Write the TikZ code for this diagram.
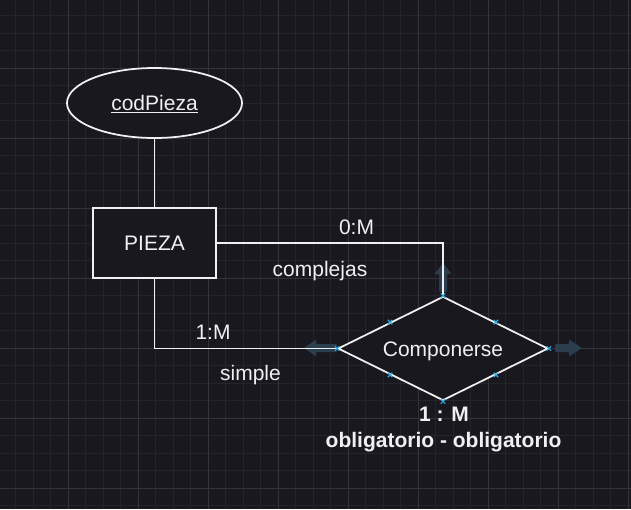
\documentclass[tikz,border=0pt]{standalone}
\usepackage{fontspec}
\setmainfont{Liberation Sans}
\usetikzlibrary{shapes.geometric}
\definecolor{bg}{RGB}{25,24,31}
\definecolor{gridminor}{RGB}{37,36,43}
\definecolor{gridmajor}{RGB}{52,51,58}
\definecolor{fg}{RGB}{240,240,240}
\definecolor{handle}{RGB}{41,170,225}
\definecolor{hover}{RGB}{42,62,78}
\begin{document}
\begin{tikzpicture}[x=1pt,y=-1pt,
  every node/.style={font=\fontsize{21}{25}\selectfont, text=fg},
  shapeline/.style={draw=fg, line width=1.75pt, fill=bg, inner sep=0pt, text height=15pt, text depth=0pt},
  conn/.style={draw=fg, line width=1.75pt},
  lbl/.style={inner sep=0pt, anchor=base},
  boldlbl/.style={inner sep=0pt, anchor=base, font=\fontsize{21}{25}\selectfont\bfseries},
  handlemark/.style={draw=handle, line width=1.1pt},
  hoverarrow/.style={fill=hover, rounded corners=1pt}
]
\fill[bg] (0,0) rectangle (631,509);
\useasboundingbox (0,0) rectangle (631,509);
% grid
\foreach \i in {0,...,35} { \draw[gridminor, line width=0.8pt] ({15.5+17.5*\i},0) -- ({15.5+17.5*\i},509); }
\foreach \i in {0,...,28} { \draw[gridminor, line width=0.8pt] (0,{15.5+17.5*\i}) -- (631,{15.5+17.5*\i}); }
\foreach \i in {-1,...,8} { \draw[gridmajor, line width=0.8pt] ({68+70*\i},0) -- ({68+70*\i},509); }
\foreach \i in {0,...,6} { \draw[gridmajor, line width=0.8pt] (0,{68+70*\i}) -- (631,{68+70*\i}); }

% hover arrows
\fill[hoverarrow] (439,292) -- (439,274) -- (434.5,274) -- (443,263) -- (451.5,274) -- (447,274) -- (447,292) -- cycle;
\fill[hoverarrow] (337,344) -- (316,344) -- (316,339.5) -- (304,348) -- (316,356.5) -- (316,352) -- (337,352) -- cycle;
\fill[hoverarrow] (555,344) -- (569,344) -- (569,339.5) -- (582,348) -- (569,356.5) -- (569,352) -- (555,352) -- cycle;

% shapes
\node[shapeline, ellipse, minimum width=175pt, minimum height=70pt] (cod) at (154.5,103) {\underline{codPieza}};
\node[shapeline, rectangle, minimum width=122.5pt, minimum height=70pt] (pieza) at (154.5,242.7) {PIEZA};
\node[shapeline, diamond, shape aspect=2.02, minimum width=210pt, minimum height=104pt] (dia) at (443,348.5) {Componerse};

% connectors
\draw[conn] (cod.south) -- (pieza.north);
\draw[conn] (pieza.east) -| (dia.north);
\draw[conn] (pieza.south) |- (dia.west);

% labels
\node[lbl] (l0m) at (356.5,234) {0:M};
\node[lbl] (lcomp) at (320,276) {complejas};
\node[lbl] (l1m) at (213,339) {1:M};
\node[lbl] (lsimple) at (250.5,380.5) {simple};
\node[boldlbl] (card) at (444,421.5) {1 : M};
\node[boldlbl] (oblig) at (443.5,447.3) {obligatorio - obligatorio};

% selection handles
\foreach \a in {north,south,east,west,north west,north east,south west,south east} {
  \draw[handlemark] ([shift={(-2.2,-2.2)}]dia.\a) -- ([shift={(2.2,2.2)}]dia.\a);
  \draw[handlemark] ([shift={(-2.2,2.2)}]dia.\a) -- ([shift={(2.2,-2.2)}]dia.\a);
}
\end{tikzpicture}
\end{document}
